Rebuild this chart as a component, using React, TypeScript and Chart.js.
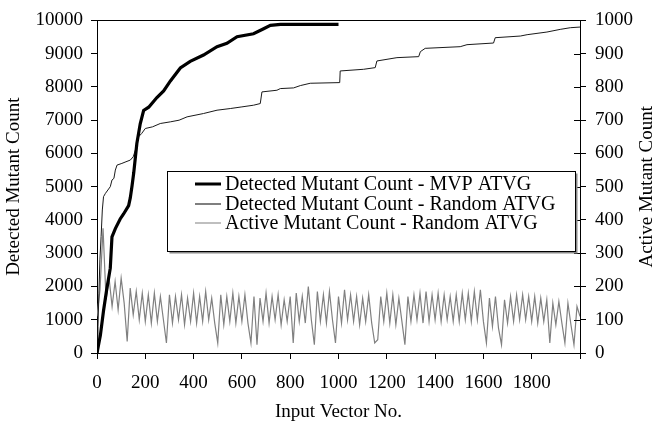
import React, { useEffect, useRef } from 'react';
import { Chart, registerables } from 'chart.js';
Chart.register(...registerables);

const FONT = "'Liberation Serif', 'Times New Roman', serif";

const X_TITLE = 'Input Vector No.';
const Y_LEFT_TITLE = 'Detected Mutant Count';
const Y_RIGHT_TITLE = 'Active Mutant Count';
const SERIES_LABELS = [
  'Detected Mutant Count - MVP ATVG',
  'Detected Mutant Count - Random ATVG',
  'Active Mutant Count - Random ATVG',
];

// Detected Mutant Count - MVP ATVG
const MVP_X = [0, 14, 27, 40, 55, 62, 76, 96, 110, 131, 138, 145, 152, 165, 179, 193, 214, 248, 276, 304, 345, 386, 441, 497, 538, 580, 648, 690, 718, 760, 1000];
const MVP_Y = [0, 530, 1270, 1900, 2550, 3490, 3740, 4030, 4180, 4430, 4670, 5020, 5410, 6300, 6890, 7290, 7390, 7680, 7880, 8180, 8570, 8770, 8960, 9210, 9310, 9510, 9600, 9750, 9850, 9880, 9880];

// Detected Mutant Count - Random ATVG
const RAND_X = [0, 4, 8, 12, 17, 22, 27, 35, 45, 55, 62, 70, 76, 83, 103, 120, 138, 150, 159, 165, 172, 185, 200, 230, 262, 304, 340, 373, 441, 497, 552, 600, 648, 676, 683, 745, 759, 814, 842, 883, 1005, 1007, 1104, 1152, 1159, 1242, 1332, 1339, 1359, 1504, 1532, 1642, 1649, 1753, 1781, 1863, 1918, 1960, 2000];
const RAND_Y = [0, 800, 1800, 2800, 3500, 4300, 4700, 4800, 4900, 5000, 5200, 5250, 5500, 5650, 5700, 5750, 5800, 5900, 6100, 6300, 6500, 6600, 6750, 6800, 6900, 6950, 7000, 7100, 7200, 7300, 7350, 7400, 7450, 7500, 7850, 7900, 7950, 7970, 8040, 8110, 8130, 8480, 8530, 8580, 8780, 8880, 8910, 9060, 9160, 9210, 9270, 9320, 9480, 9530, 9570, 9650, 9730, 9780, 9800];

// Active Mutant Count - Random ATVG (sampled every ACTIVE_STEP input vectors)
const ACTIVE_STEP = 12.5;
const ACTIVE_Y = [
  110,
  190, 375, 160, 225, 140, 215, 130, 225,
  150, 35, 195, 115, 185, 100, 180, 95,
  175, 90, 180, 95, 170, 100, 30, 175,
  90, 170, 100, 175, 85, 165, 95, 180,
  90, 170, 95, 185, 100, 165, 90, 30,
  175, 85, 170, 95, 180, 90, 170, 95,
  175, 90, 30, 170, 25, 165, 95, 180,
  90, 170, 100, 175, 85, 160, 95, 170,
  30, 180, 95, 170, 90, 200, 100, 25,
  185, 95, 175, 90, 185, 100, 30, 170,
  90, 190, 100, 175, 95, 170, 85, 165,
  95, 175, 90, 30, 40, 170, 95, 180,
  90, 175, 85, 165, 95, 25, 170, 95,
  175, 100, 180, 90, 185, 95, 175, 100,
  180, 95, 175, 100, 170, 95, 175, 95,
  180, 100, 180, 95, 185, 100, 190, 95,
  30, 165, 80, 170, 75, 25, 160, 90,
  170, 95, 175, 100, 175, 100, 170, 95,
  170, 90, 165, 95, 160, 30, 150, 85,
  155, 90, 30, 150, 85, 25, 140, 110,
];

const SERIES_COLORS = ['#000000', '#1a1a1a', '#808080'];
const SERIES_WIDTHS = [3.2, 1, 1.2];
const LEGEND_COLORS = ['#000000', '#555555', '#aaaaaa'];
const LEGEND_WIDTHS = [3, 1.5, 1.5];

const frameAndLegend = {
  id: 'frameAndLegend',
  afterDraw(chart: any) {
    const { ctx, chartArea } = chart;
    const { left, right, top, bottom } = chartArea;
    ctx.save();
    // top frame line
    ctx.strokeStyle = '#000';
    ctx.lineWidth = 1;
    ctx.beginPath();
    ctx.moveTo(left, Math.round(top) + 0.5);
    ctx.lineTo(right, Math.round(top) + 0.5);
    ctx.stroke();
    // inward ticks on right axis
    const y1 = chart.scales.y1;
    ctx.beginPath();
    y1.ticks.forEach((t: any) => {
      const py = Math.round(y1.getPixelForValue(t.value)) + 0.5;
      ctx.moveTo(right - 6, py);
      ctx.lineTo(right, py);
    });
    ctx.stroke();

    // right axis title (reads bottom to top)
    ctx.save();
    ctx.translate(647, (top + bottom) / 2);
    ctx.rotate(-Math.PI / 2);
    ctx.font = `19px ${FONT}`;
    ctx.fillStyle = '#000';
    ctx.textAlign = 'center';
    ctx.textBaseline = 'middle';
    ctx.fillText(Y_RIGHT_TITLE, 0, 0);
    ctx.restore();

    // legend box
    const bx = 167.5, by = 171.5, bw = 408, bh = 80;
    ctx.fillStyle = '#8a8a8a';
    ctx.fillRect(bx + 2, by + 2, bw, bh);
    ctx.fillStyle = '#ffffff';
    ctx.fillRect(bx, by, bw, bh);
    ctx.strokeStyle = '#000';
    ctx.lineWidth = 1;
    ctx.strokeRect(bx, by, bw, bh);
    ctx.font = `20px ${FONT}`;
    ctx.textBaseline = 'middle';
    ctx.textAlign = 'left';
    const rows = [184, 204, 223];
    SERIES_LABELS.forEach((label, i) => {
      ctx.strokeStyle = LEGEND_COLORS[i];
      ctx.lineWidth = LEGEND_WIDTHS[i];
      ctx.beginPath();
      ctx.moveTo(195, rows[i]);
      ctx.lineTo(221, rows[i]);
      ctx.stroke();
      ctx.fillStyle = '#000';
      ctx.fillText(label, 225, rows[i] + 1);
    });
    ctx.restore();
  },
};

export default function App() {
  const ref = useRef<HTMLCanvasElement>(null);
  useEffect(() => {
    document.body.style.margin = '0';
    const font = { family: FONT, size: 19 };
    const grid = { display: true, drawOnChartArea: false, drawTicks: true, tickLength: 6, color: '#000', lineWidth: 1 };
    const border = { display: true, color: '#000', width: 1 };
    const chart = new Chart(ref.current as HTMLCanvasElement, {
      type: 'line',
      data: {
        datasets: [
          {
            label: SERIES_LABELS[0],
            data: MVP_X.map((x, i) => ({ x, y: MVP_Y[i] })),
            borderColor: SERIES_COLORS[0],
            borderWidth: SERIES_WIDTHS[0],
            pointRadius: 0,
            yAxisID: 'y',
          },
          {
            label: SERIES_LABELS[1],
            data: RAND_X.map((x, i) => ({ x, y: RAND_Y[i] })),
            borderColor: SERIES_COLORS[1],
            borderWidth: SERIES_WIDTHS[1],
            pointRadius: 0,
            yAxisID: 'y',
          },
          {
            label: SERIES_LABELS[2],
            data: ACTIVE_Y.map((y, i) => ({ x: i * ACTIVE_STEP, y })),
            borderColor: SERIES_COLORS[2],
            borderWidth: SERIES_WIDTHS[2],
            pointRadius: 0,
            yAxisID: 'y1',
          },
        ],
      },
      options: {
        responsive: false,
        animation: false,
        devicePixelRatio: 1,
        layout: { padding: { top: 15, left: 0, right: 0, bottom: 0 } },
        plugins: { legend: { display: false }, tooltip: { enabled: false } },
        elements: { line: { tension: 0 } },
        scales: {
          x: {
            type: 'linear',
            min: 0,
            max: 2000,
            ticks: {
              stepSize: 200,
              color: '#000',
              font,
              padding: 13,
              maxRotation: 0,
              callback: (v: any) => (v === 2000 ? '' : String(v)),
            },
            grid,
            border,
            title: { display: true, text: X_TITLE, color: '#000', font, padding: { top: 0, bottom: 3 } },
            afterFit: (s: any) => { s.height = 73; },
          },
          y: {
            type: 'linear',
            position: 'left',
            min: 0,
            max: 10000,
            ticks: { stepSize: 1000, color: '#000', font, padding: 8, callback: (v: any) => String(v) },
            grid,
            border,
            title: { display: true, text: Y_LEFT_TITLE, color: '#000', font, padding: { top: 3, bottom: 0 } },
            afterFit: (s: any) => { s.width = 97; },
          },
          y1: {
            type: 'linear',
            position: 'right',
            min: 0,
            max: 1000,
            ticks: { stepSize: 100, color: '#000', font, padding: 9, callback: (v: any) => String(v) },
            grid,
            border,
            title: { display: false, text: Y_RIGHT_TITLE },
            afterFit: (s: any) => { s.width = 76; },
          },
        },
      },
      plugins: [frameAndLegend],
    });
    return () => chart.destroy();
  }, []);
  return (
    <div style={{ width: 656, height: 426 }}>
      <canvas ref={ref} width={656} height={426} style={{ display: 'block', width: 656, height: 426 }} />
    </div>
  );
}
